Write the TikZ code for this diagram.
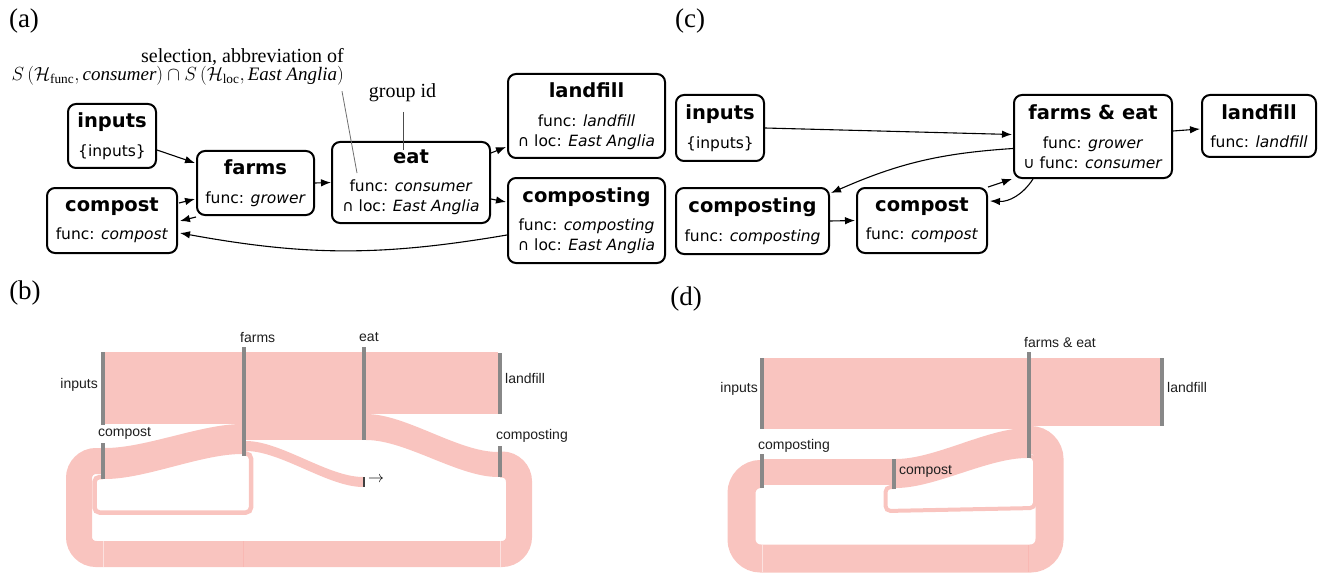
\RequirePackage{fix-cm}
\documentclass[tikz,border=0pt]{standalone}
\usepackage{fontspec}
\setmainfont{Liberation Serif}
\newfontfamily\boxfont{DejaVu Sans}
\newfontfamily\skfont{Liberation Sans}
\usetikzlibrary{arrows.meta,calc}
\definecolor{pinkc}{RGB}{249,196,191}
\definecolor{barc}{RGB}{136,136,136}
\definecolor{labc}{RGB}{30,30,30}
\definecolor{notec}{RGB}{110,110,110}
\newcommand{\bt}[1]{{\fontsize{19.5}{20}\selectfont\bfseries #1}}
\tikzset{
  box/.style={draw, line width=2pt, rounded corners=8pt, align=center, fill=white,
    font=\boxfont\fontsize{15.5}{20}\selectfont, inner sep=0pt},
  arr/.style={-{Latex[length=10pt,width=7.5pt]}, line width=1.1pt},
  note/.style={draw=notec, line width=0.8pt},
  notetext/.style={inner sep=0pt, font=\fontsize{20}{20}\selectfont},
  panel/.style={inner sep=0pt, font=\fontsize{27}{30}\selectfont},
  band/.style={fill=pinkc},
  loopband/.style={draw=pinkc},
  bar/.style={rectangle, fill=barc, inner sep=0pt, outer sep=0pt, minimum width=4pt, anchor=north},
  sk/.style={inner sep=0pt, text=labc, font=\skfont\fontsize{14}{16}\selectfont},
  seam/.style={line width=0.6pt, draw=white, opacity=0.5}
}
\begin{document}
\begin{tikzpicture}[x=1pt,y=-1pt]
\useasboundingbox (0,0) rectangle (1328,575);

% ---------------- panel labels ----------------
\node[panel] (la) at (24,21) {(a)};
\node[panel] (lb) at (25,293) {(b)};
\node[panel] (lc) at (690,21) {(c)};
\node[panel] (ld) at (686,299) {(d)};

% ---------------- (a) ----------------
\node[box, minimum width=88pt, minimum height=64pt] (ai) at (112,136) {\bt{inputs}\\[8.5pt]\{inputs\}};
\node[box, minimum width=117pt, minimum height=64pt] (af) at (255.5,183) {\bt{farms}\\[8.5pt]func: \textit{grower}};
\node[box, minimum width=158pt, minimum height=81pt] (ae) at (411,182.5) {\bt{eat}\\[8.5pt]func: \textit{consumer}\\∩ loc: \textit{East Anglia}};
\node[box, minimum width=157pt, minimum height=84pt] (al) at (586.5,116) {\bt{landfill}\\[8.5pt]func: \textit{landfill}\\∩ loc: \textit{East Anglia}};
\node[box, minimum width=157pt, minimum height=85pt] (acg) at (586.5,220.5) {\bt{composting}\\[8.5pt]func: \textit{composting}\\∩ loc: \textit{East Anglia}};
\node[box, minimum width=130pt, minimum height=65pt] (acp) at (112,220.5) {\bt{compost}\\[8.5pt]func: \textit{compost}};

\draw[arr] ($(ai.east)+(0,14)$) -- ($(af.west)+(-1,-20)$);
\draw[arr] ($(acp.east)+(1,-17.5)$) -- ($(af.west)+(-1,16)$);
\draw[arr] ($(af.south west)+(0,1)$) -- ($(acp.east)+(2,0.5)$);
\draw[arr] (af.east) -- (ae.west);
\draw[arr] ($(ae.east)+(0,-29.5)$) -- ($(al.west)+(-1,31)$);
\draw[arr] ($(ae.east)+(0,16.5)$) -- ($(acg.west)+(-1,-18.5)$);
\draw[arr] ($(acg.west)+(0,14.5)$) to[bend left=10] ($(acp.east)+(2,12.5)$);

\node[notetext, anchor=north east, align=right] (sel) at (344,48)
  {selection, abbreviation of\\[-2pt] {\fontsize{19}{20}\selectfont $S\,(\mathcal{H}_{\mathrm{func}}, \textit{consumer}) \cap S\,(\mathcal{H}_{\mathrm{loc}}, \textit{East Anglia})$}};
\coordinate (selpt) at (357,173);
\draw[note] ($(sel.south east)+(-2,6)$) -- (selpt);
\node[notetext, anchor=base] (gid) at (402.5,98) {group id};
\coordinate (gidpt) at (403,150);
\draw[note, draw=black!70] ($(gid.base)+(0.5,14)$) -- (gidpt);

% ---------------- (c) ----------------
\node[box, minimum width=88pt, minimum height=66pt] (ci) at (720,128) {\bt{inputs}\\[8.5pt]\{inputs\}};
\node[box, minimum width=158pt, minimum height=83pt] (cfe) at (1093,136.5) {\bt{farms \& eat}\\[8.5pt]func: \textit{grower}\\∪ func: \textit{consumer}};
\node[box, minimum width=114pt, minimum height=62pt] (cl) at (1259,126) {\bt{landfill}\\[8.5pt]func: \textit{landfill}};
\node[box, minimum width=153pt, minimum height=66pt] (ccg) at (752.5,221) {\bt{composting}\\[8.5pt]func: \textit{composting}};
\node[box, minimum width=130pt, minimum height=65pt] (ccp) at (922,220.5) {\bt{compost}\\[8.5pt]func: \textit{compost}};

\draw[arr] (ci.east) -- ($(cfe.west)+(-1,-2)$);
\draw[arr] ($(cfe.east)+(0,-5.5)$) -- ($(cl.west)+(-1,3)$);
\draw[arr] ($(cfe.west)+(0,12)$) to[bend right=10] ($(ccg.east)+(1,-28)$);
\draw[arr] (ccg.east) -- ($(ccp.west)+(-1,0)$);
\draw[arr] ($(ccp.north east)+(0,0)$) -- ($(cfe.south west)+(-1,0)$);
\draw[arr] ($(cfe.south west)+(20,0)$) to[bend left=30] ($(ccp.east)+(2,-19.5)$);

% ---------------- (b) sankey ----------------
\fill[band] (105,352) rectangle (242,424);
\fill[band] (105,448) .. controls (146,448) and (201,424) .. (242,424) -- (242,454) .. controls (201,454) and (146,479) .. (105,479) -- cycle;
\fill[band] (246,352) rectangle (362,440);
\fill[band] (246,441) .. controls (281,441) and (328,477) .. (363,477) -- (363,487) .. controls (328,487) and (281,451) .. (246,451) -- cycle;
\fill[band] (366,352) rectangle (498,414);
\fill[band] (366,414) .. controls (406,414) and (458,452) .. (498,452) -- (498,477) .. controls (458,477) and (406,440) .. (366,440) -- cycle;
\draw[loopband, line width=26pt, rounded corners=17pt] (500,464.5) -- (519,464.5) -- (519,554) -- (79,554) -- (79,461) -- (103,461);
\draw[loopband, line width=4.5pt, rounded corners=5pt] (244,453.5) -- (251,453.5) -- (251,512.5) -- (94.5,512.5) -- (94.5,477) -- (103,477);
\draw[seam] (103,541) -- (103,567);
\draw[seam] (500,541) -- (500,567);
\draw[line width=0.6pt, draw=pinkc!85!red, opacity=0.4] (243,541) -- (243,567);

\node[bar, minimum height=73pt] (b-inputs) at (103,352) {};
\node[bar, minimum height=36pt] (b-compost) at (103,443) {};
\node[bar, minimum height=109pt] (b-farms) at (244,347) {};
\node[bar, minimum height=93pt] (b-eat) at (364,347) {};
\node[bar, minimum height=61pt] (b-landfill) at (500,353) {};
\node[bar, minimum height=31pt] (b-composting) at (500,446) {};
\node[bar, minimum height=10pt, minimum width=1.6pt, fill=black!75] (b-end) at (363.8,477) {};

\node[sk, anchor=base east] (bl-inputs) at (98,388) {inputs};
\node[sk, anchor=base west] (bl-compost) at (98,436.5) {compost};
\node[sk, anchor=base west] (bl-farms) at (240,342) {farms};
\node[sk, anchor=base west] (bl-eat) at (359,341) {eat};
\node[sk, anchor=base west] (bl-landfill) at (505,383) {landfill};
\node[sk, anchor=base west] (bl-composting) at (496,439) {composting};
\node[inner sep=0pt, font=\fontsize{16}{16}\selectfont] (bl-arrow) at (376,480) {$\rightarrow$};

% ---------------- (d) sankey ----------------
\fill[band] (764,358) rectangle (1027,429);
\fill[band] (1031,358) rectangle (1160,426);
\fill[band] (764,459) rectangle (892,485);
\fill[band] (896,459) .. controls (935,459) and (988,428) .. (1027,428) -- (1027,458) .. controls (988,458) and (935,488) .. (896,488) -- cycle;
\draw[loopband, line width=28pt, rounded corners=19pt] (1029,440) -- (1049.5,440) -- (1049.5,558.5) -- (741.5,558.5) -- (741.5,474) -- (762,474);
\draw[loopband, line width=4pt, rounded corners=5pt] (1029,456) -- (1035,456) -- (1035,508) -- (885.5,511) -- (885.5,487) -- (894,487);
\draw[seam] (762,545) -- (762,572);
\draw[line width=0.6pt, draw=pinkc!85!red, opacity=0.4] (1028,545) -- (1028,572);

\node[bar, minimum height=71pt] (d-inputs) at (762,358) {};
\node[bar, minimum height=34pt] (d-composting) at (762,454) {};
\node[bar, minimum height=30pt] (d-compost) at (894,459) {};
\node[bar, minimum height=106pt] (d-fe) at (1029,352) {};
\node[bar, minimum height=68pt] (d-landfill) at (1162,358) {};

\node[sk, anchor=base east] (dl-inputs) at (758,392) {inputs};
\node[sk, anchor=base west] (dl-fe) at (1024,347) {farms \& eat};
\node[sk, anchor=base west] (dl-landfill) at (1167,392) {landfill};
\node[sk, anchor=base west] (dl-composting) at (758,449) {composting};
\node[sk, anchor=base west] (dl-compost) at (899,474) {compost};
\end{tikzpicture}
\end{document}
